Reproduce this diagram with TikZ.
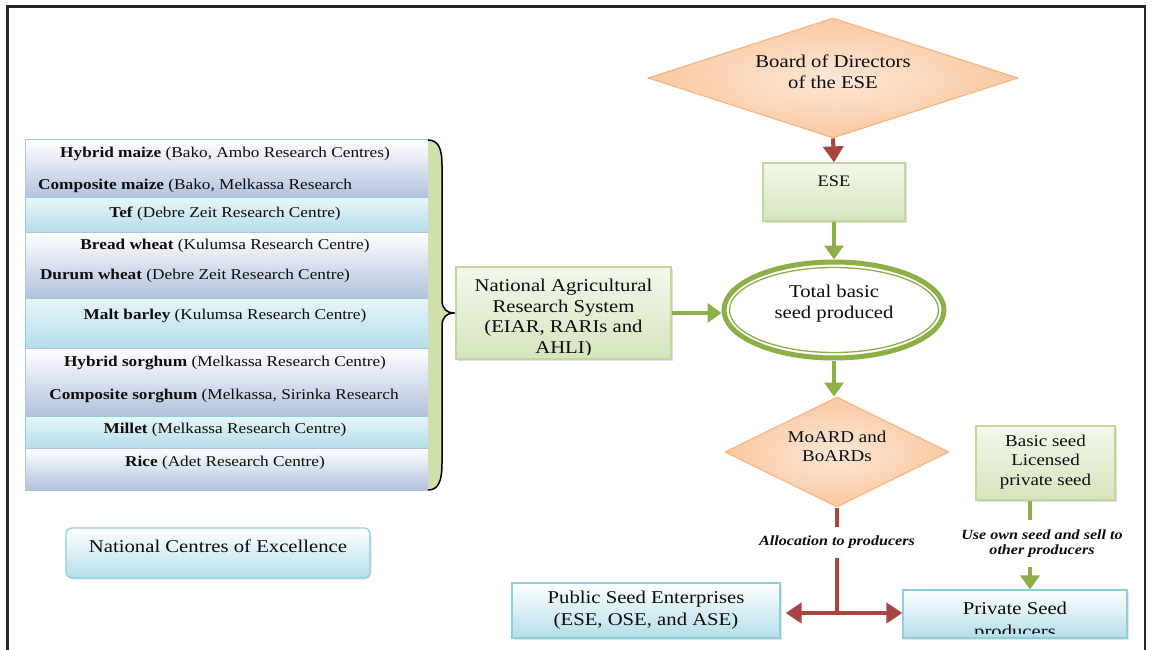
\documentclass[tikz,border=0pt]{standalone}
\usepackage{fontspec}
\setmainfont{Liberation Serif}[FakeStretch=1.15]
\usetikzlibrary{arrows.meta,shapes.geometric,shadows}
\definecolor{framec}{HTML}{262626}
\definecolor{bluebot}{HTML}{B3C1DD}
\definecolor{bluebd}{HTML}{A9C4E6}
\definecolor{cyanbot}{HTML}{B4DEEA}
\definecolor{cyanbd}{HTML}{92CDDC}
\definecolor{greentop}{HTML}{F3F8EC}
\definecolor{greenbot}{HTML}{D6E4BD}
\definecolor{greenbd}{HTML}{C3D69B}
\definecolor{orangetop}{HTML}{FDE7D6}
\definecolor{orangebot}{HTML}{FAC9A2}
\definecolor{orangebd}{HTML}{F7B07A}
\definecolor{redc}{HTML}{A94442}
\definecolor{greenc}{HTML}{8DAF47}
\definecolor{bracefill}{HTML}{D1DFAC}
\definecolor{txtc}{HTML}{0D0D0D}
\begin{document}
\begin{tikzpicture}[x=1pt,y=-1pt,
  txt/.style={inner sep=0pt, align=center, text=txtc},
  listtxt/.style={txt, font=\fontsize{15}{18}\selectfont},
  rowblue/.style={draw=bluebd, line width=1pt, top color=white, bottom color=bluebot, minimum width=403pt, inner sep=0pt},
  rowcyan/.style={draw=cyanbd, line width=1pt, top color=cyanbot!30, bottom color=cyanbot, minimum width=403pt, inner sep=0pt},
  greenbox/.style={draw=greenbd, line width=1.2pt, top color=greentop, bottom color=greenbot, inner sep=0pt,
    drop shadow={shadow xshift=1.5pt, shadow yshift=-1.5pt, opacity=0.25}},
  cyanbox/.style={draw=cyanbd, line width=1.2pt, top color=white, bottom color=cyanbot, inner sep=0pt,
    drop shadow={shadow xshift=1.5pt, shadow yshift=-1.5pt, opacity=0.2}},
  orangedia/.style={diamond, draw=orangebd, line width=1pt, inner color=orangetop, outer color=orangebot, inner sep=0pt},
  redline/.style={draw=redc, line width=4pt},
  redarrow/.style={redline, -{Triangle[width=20pt,length=16pt]}},
  greenline/.style={draw=greenc, line width=4pt},
  greenarrow/.style={greenline, -{Triangle[width=19pt,length=14pt]}},
  lbl/.style={txt, font=\fontsize{14}{15.5}\selectfont\bfseries\itshape},
  framestyle/.style={draw=framec, line width=2.5pt}
]
\useasboundingbox (0,0) rectangle (1152,650);
\fill[white] (0,0) rectangle (1152,650);
\draw[framestyle] (7.5,651) -- (7.5,6.5) -- (1145,6.5) -- (1145,651);

% ---------- list of centres ----------
\node[rowblue, minimum height=58pt] (r1) at (226.5,169) {};
\node[rowcyan, minimum height=34pt] (r2) at (226.5,215) {};
\node[rowblue, minimum height=66pt] (r3) at (226.5,265) {};
\node[rowcyan, minimum height=50pt] (r4) at (226.5,323) {};
\node[rowblue, minimum height=68pt] (r5) at (226.5,382) {};
\node[rowcyan, minimum height=32pt] (r6) at (226.5,432) {};
\node[rowblue, minimum height=42pt] (r7) at (226.5,469) {};

\node[listtxt] (t1) at (225,154) {\textbf{Hybrid maize} (Bako, Ambo Research Centres)};
\node[listtxt] (t1b) at (195,186) {\textbf{Composite maize} (Bako, Melkassa Research};
\node[listtxt] (t2) at (225,214) {\textbf{Tef} (Debre Zeit Research Centre)};
\node[listtxt] (t3) at (225,246) {\textbf{Bread wheat} (Kulumsa Research Centre)};
\node[listtxt] (t3b) at (195,276) {\textbf{Durum wheat} (Debre Zeit Research Centre)};
\node[listtxt] (t4) at (225,316) {\textbf{Malt barley} (Kulumsa Research Centre)};
\node[listtxt] (t5) at (225,363) {\textbf{Hybrid sorghum} (Melkassa Research Centre)};
\node[listtxt] (t5b) at (224,396) {\textbf{Composite sorghum} (Melkassa, Sirinka Research};
\node[listtxt] (t6) at (225,430) {\textbf{Millet} (Melkassa Research Centre)};
\node[listtxt] (t7) at (225,463) {\textbf{Rice} (Adet Research Centre)};

% ---------- brace ----------
\fill[bracefill] (428,140) .. controls (439,140) and (442,150) .. (442,165) -- (442,300)
  .. controls (442,309) and (447,313) .. (454,313) .. controls (447,313) and (442,317) .. (442,326)
  -- (442,463) .. controls (442,480) and (439,490) .. (428,490) -- cycle;
\draw[black, line width=1.5pt] (428,140) .. controls (439,140) and (442,150) .. (442,165) -- (442,300)
  .. controls (442,309) and (447,313) .. (454,313) .. controls (447,313) and (442,317) .. (442,326)
  -- (442,463) .. controls (442,480) and (439,490) .. (428,490);

% ---------- National Centres of Excellence ----------
\node[cyanbox, rounded corners=6pt, minimum width=304pt, minimum height=50pt] (nce) at (218,553) {};
\node[txt, font=\fontsize{18}{21}\selectfont] (ncet) at (218,546) {National Centres of Excellence};

% ---------- NARS ----------
\node[greenbox, minimum width=215pt, minimum height=92pt] (nars) at (563.5,313) {};
\begin{scope}
  \clip (457,268) rectangle (670,354);
  \node[txt, font=\fontsize{18}{20.5}\selectfont] (narst) at (563.5,318) {National Agricultural\\Research System\\(EIAR, RARIs and\\AHLI)};
\end{scope}

% ---------- Board ----------
\node[orangedia, minimum width=370pt, minimum height=120pt] (board) at (833,78) {};
\node[txt, font=\fontsize{18}{21}\selectfont] (boardt) at (833,72) {Board of Directors\\of the ESE};

% ---------- ESE ----------
\node[greenbox, minimum width=142pt, minimum height=58pt] (ese) at (834,192) {};
\node[txt, font=\fontsize{16}{19}\selectfont] (eset) at (834,181) {ESE};

% ---------- Total basic seed ----------
\node[ellipse, draw=greenc, line width=5pt, fill=white, minimum width=220pt, minimum height=96pt] (tot) at (834,310) {};
\draw[greenc, line width=1.3pt] (tot.center) ellipse [x radius=104.5pt, y radius=42.5pt];
\node[txt, font=\fontsize{18}{21}\selectfont] (tott) at (834,304) {Total basic\\seed produced};

% ---------- MoARD ----------
\node[orangedia, minimum width=224pt, minimum height=110pt] (moard) at (837,452) {};
\node[txt, font=\fontsize{16.5}{19}\selectfont] (moardt) at (837,446) {MoARD and\\BoARDs};

% ---------- Basic seed ----------
\node[greenbox, minimum width=139pt, minimum height=74pt] (basic) at (1045.5,463) {};
\node[txt, font=\fontsize{16.5}{19.5}\selectfont] (basict) at (1045.5,462) {Basic seed\\Licensed\\private seed};

% ---------- Public / Private ----------
\node[cyanbox, minimum width=268pt, minimum height=55pt] (pub) at (646,610.5) {};
\node[txt, font=\fontsize{18}{22}\selectfont] (pubt) at (646,610) {Public Seed Enterprises\\(ESE, OSE, and ASE)};

\node[cyanbox, minimum width=224pt, minimum height=48pt] (priv) at (1015,614) {};
\begin{scope}
  \clip (904,591) rectangle (1126,633);
  \node[txt, font=\fontsize{18}{23}\selectfont] (privt) at (1015,622) {Private Seed\\producers};
\end{scope}

% ---------- connectors ----------
\draw[redarrow] (board.south) -- (ese.north);
\draw[greenarrow] (ese.south) -- (ese.south |- tot.north);
\draw[greenarrow] (nars.east) -- (nars.east -| tot.west);
\draw[greenarrow] (tot.south) -- (tot.south |- moard.north);

\node[lbl, minimum height=31pt] (alloc) at (837,542.5) {Allocation to producers};
\coordinate (junc) at (837,613);
\draw[redline] (moard.south) -- (alloc.north);
\draw[redline] (alloc.south) -- (junc);
\draw[redarrow, shorten >=5pt] (junc) -- (junc -| pub.east);
\draw[redarrow] (junc) -- (junc -| priv.west);

\node[lbl, minimum height=47pt] (own) at (1042,543.5) {Use own seed and sell to\\other producers};
\coordinate (gx) at (1030,0);
\draw[greenline] (basic.south -| gx) -- (gx |- own.north);
\draw[greenarrow] (gx |- own.south) -- (gx |- priv.north);
\end{tikzpicture}
\end{document}
